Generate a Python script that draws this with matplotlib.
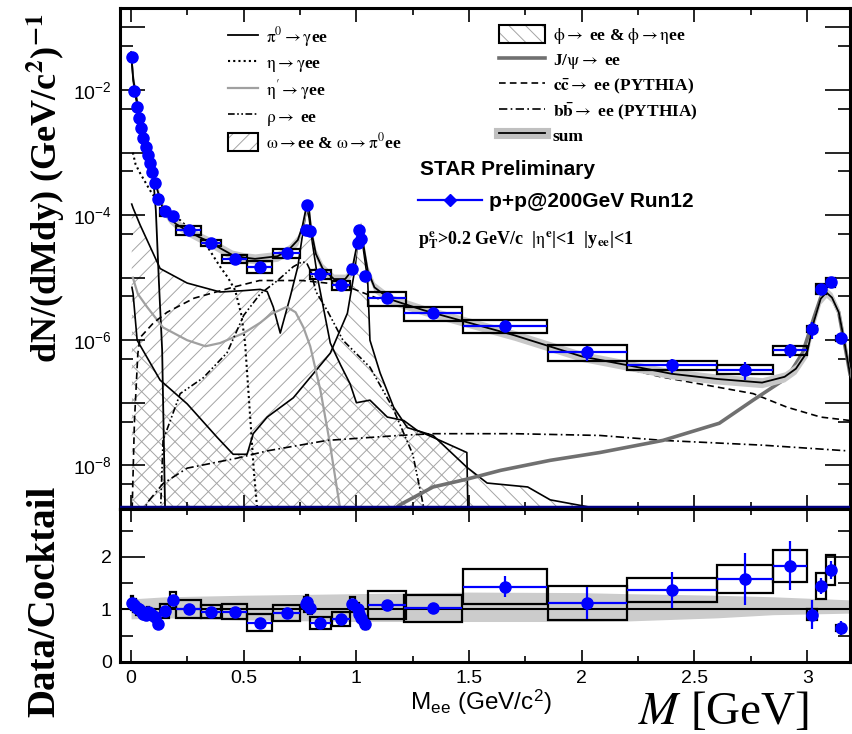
"""
Dielectron invariant mass spectrum in p+p at 200 GeV (STAR Run12)
compared with the hadronic cocktail, with Data/Cocktail ratio panel.
"""

import matplotlib
matplotlib.use("Agg")

import matplotlib.pyplot as plt
import numpy as np
from matplotlib.lines import Line2D
from matplotlib.patches import Patch, Rectangle
from matplotlib.ticker import FixedLocator, FuncFormatter, LogLocator, NullFormatter

plt.rcParams["font.family"] = ["Liberation Sans", "DejaVu Sans"]
plt.rcParams["mathtext.fontset"] = "stix"
plt.rcParams["hatch.linewidth"] = 0.7

SERIF = ["Liberation Serif", "DejaVu Serif"]

# ==========================================================
# Data points (mass, yield, half bin width)
# ==========================================================

DATA_M = [0.005, 0.015, 0.025, 0.035, 0.045, 0.055, 0.065, 0.075, 0.085, 0.095,
          0.105, 0.12, 0.15, 0.185, 0.255, 0.355, 0.46, 0.57, 0.69, 0.775,
          0.782, 0.795, 0.84, 0.93, 0.982, 1.008, 1.013, 1.022, 1.04, 1.137,
          1.34, 1.66, 2.025, 2.4, 2.725, 2.925, 3.022, 3.063, 3.105, 3.15]
DATA_Y = [3.4e-2, 9.6e-3, 5.3e-3, 3.6e-3, 2.5e-3, 1.7e-3, 1.23e-3, 9.1e-4, 6.8e-4, 4.9e-4,
          3.3e-4, 1.8e-4, 1.15e-4, 9.6e-5, 5.7e-5, 3.6e-5, 2.0e-5, 1.5e-5, 2.5e-5, 5.7e-5,
          1.45e-4, 5.5e-5, 1.15e-5, 7.6e-6, 1.4e-5, 3.6e-5, 5.7e-5, 4.2e-5, 1.05e-5, 4.7e-6,
          2.7e-6, 1.7e-6, 6.4e-7, 4.0e-7, 3.4e-7, 6.9e-7, 1.5e-6, 6.7e-6, 8.5e-6, 1.07e-6]
DATA_HW = [0.005, 0.005, 0.005, 0.005, 0.005, 0.005, 0.005, 0.005, 0.005, 0.005,
           0.005, 0.01, 0.02, 0.013, 0.055, 0.045, 0.055, 0.055, 0.06, 0.008,
           0.005, 0.008, 0.045, 0.04, 0.01, 0.005, 0.005, 0.005, 0.01, 0.085,
           0.13, 0.185, 0.175, 0.2, 0.125, 0.075, 0.022, 0.022, 0.02, 0.02]

# Data / cocktail ratio with statistical and systematic uncertainties
RATIO = [1.12, 1.08, 1.02, 1.0, 0.97, 0.92, 0.9, 0.95, 0.93, 0.9,
         0.85, 0.72, 0.97, 1.18, 1.0, 0.96, 0.96, 0.75, 0.93, 1.1,
         1.15, 1.03, 0.74, 0.82, 1.1, 1.0, 0.92, 0.84, 0.73, 1.08,
         1.02, 1.43, 1.12, 1.37, 1.58, 1.83, 0.9, 1.45, 1.75, 0.65]
RATIO_STAT = [0.03, 0.03, 0.03, 0.03, 0.03, 0.03, 0.04, 0.04, 0.04, 0.04,
              0.05, 0.05, 0.06, 0.08, 0.05, 0.05, 0.06, 0.06, 0.05, 0.06,
              0.05, 0.06, 0.06, 0.08, 0.08, 0.06, 0.05, 0.06, 0.07, 0.08,
              0.06, 0.2, 0.3, 0.35, 0.49, 0.47, 0.27, 0.15, 0.18, 0.13]
RATIO_SYS = [0.14, 0.12, 0.12, 0.1, 0.1, 0.1, 0.1, 0.1, 0.1, 0.1,
             0.1, 0.08, 0.14, 0.16, 0.17, 0.12, 0.15, 0.16, 0.15, 0.14,
             0.12, 0.12, 0.12, 0.14, 0.14, 0.12, 0.12, 0.12, 0.1, 0.27,
             0.26, 0.33, 0.32, 0.22, 0.26, 0.3, 0.1, 0.25, 0.28, 0.06]

# ==========================================================
# Cocktail components
# ==========================================================

PI0_M = [0.0, 0.01, 0.02, 0.04, 0.06, 0.08, 0.10, 0.11, 0.124, 0.138, 0.151]
PI0_Y = [4.0e-2, 1.4e-2, 8.0e-3, 3.3e-3, 1.5e-3, 7.0e-4, 3.3e-4, 1.2e-4, 8e-6, 7e-7, 2e-9]

ETA_M = [0.008, 0.02, 0.04, 0.084, 0.115, 0.16, 0.218, 0.28, 0.337, 0.395,
         0.43, 0.462, 0.49, 0.506, 0.53, 0.545, 0.56]
ETA_Y = [1e-3, 6.5e-4, 4.7e-4, 2.5e-4, 1.7e-4, 1.2e-4, 8.3e-5, 5e-5, 3.2e-5, 1.5e-5,
         1e-5, 6.3e-6, 2.5e-6, 9e-7, 5e-8, 8e-9, 2e-9]

ETAP_M = [0.008, 0.03, 0.071, 0.142, 0.249, 0.33, 0.395, 0.5, 0.573, 0.62,
          0.69, 0.73, 0.765, 0.795, 0.84, 0.88, 0.928]
ETAP_Y = [1e-5, 5.5e-6, 3.4e-6, 1.6e-6, 1e-6, 8e-7, 9e-7, 1.3e-6, 1.9e-6, 2.6e-6,
          3.4e-6, 2.8e-6, 1.6e-6, 8e-7, 1.6e-7, 2.5e-8, 2e-9]

RHO_M = [0.13, 0.142, 0.218, 0.32, 0.426, 0.5, 0.573, 0.65, 0.72, 0.76,
         0.78, 0.8, 0.82, 0.87, 0.94, 1.06, 1.16, 1.25, 1.3]
RHO_Y = [1.5e-9, 2.5e-8, 1.4e-7, 2.5e-7, 6.3e-7, 2.5e-6, 5.5e-6, 9e-6, 1.5e-5, 1.8e-5,
         1.7e-5, 1.2e-5, 6e-6, 3e-6, 1e-6, 3.7e-7, 8.5e-8, 1.5e-8, 2e-9]

OMEGA_M = [0.003, 0.009, 0.04, 0.071, 0.129, 0.249, 0.395, 0.5, 0.573, 0.604,
           0.631, 0.662, 0.706, 0.74, 0.764, 0.775, 0.782, 0.79, 0.805, 0.83,
           0.86, 0.884, 0.93, 0.972, 1.0, 1.06, 1.137, 1.21, 1.27, 1.34,
           1.49, 1.495]
OMEGA_Y = [1.5e-4, 1.3e-4, 7e-5, 4e-5, 1.4e-5, 8.2e-6, 5.9e-6, 6.2e-6, 6.5e-6, 6e-6,
           3.4e-6, 1.3e-6, 4.9e-6, 1.5e-5, 5.8e-5, 1.05e-4, 1.2e-4, 9e-5, 3.5e-5, 9e-6,
           2.5e-6, 9e-7, 4e-7, 2e-7, 1e-7, 1.1e-7, 5.9e-8, 5.2e-8, 3.6e-8, 2.8e-8,
           1.6e-8, 1.5e-9]

PHI_M = [0.004, 0.009, 0.027, 0.129, 0.249, 0.382, 0.453, 0.515, 0.542, 0.604,
         0.72, 0.884, 0.96, 0.995, 1.01, 1.02, 1.03, 1.05, 1.06, 1.105,
         1.165, 1.226, 1.34, 1.49, 1.58, 1.76, 1.86, 2.08, 2.25]
PHI_Y = [7e-6, 5.6e-6, 1e-6, 2.3e-7, 9.6e-8, 2.8e-8, 1.5e-8, 1.5e-8, 3.2e-8, 5.9e-8,
         1.2e-7, 6.2e-7, 2.7e-6, 1.5e-5, 5.8e-5, 7e-5, 3e-5, 9e-6, 1e-6, 3e-7,
         8.5e-8, 4e-8, 3e-8, 9.3e-9, 5.2e-9, 4.5e-9, 2.8e-9, 2e-9, 1.5e-9]

JPSI_M = [1.13, 1.19, 1.34, 1.49, 1.64, 1.86, 2.08, 2.36, 2.61, 2.76,
          2.91, 2.98, 3.03, 3.06, 3.085, 3.11, 3.14, 3.19]
JPSI_Y = [1.5e-9, 2.3e-9, 4.5e-9, 6e-9, 8.3e-9, 1.2e-8, 1.6e-8, 2.5e-8, 4.7e-8, 1.1e-7,
          2.5e-7, 6.3e-7, 2.3e-6, 4.8e-6, 5.8e-6, 4.8e-6, 2.8e-6, 2.9e-7]

CCBAR_M = [0.005, 0.015, 0.03, 0.04, 0.1, 0.16, 0.28, 0.45, 0.57, 0.76,
           0.94, 1.14, 1.34, 1.66, 2.0, 2.35, 2.76, 2.91, 3.06, 3.19]
CCBAR_Y = [2e-9, 5e-8, 6e-7, 1.1e-6, 1.9e-6, 2.8e-6, 4.7e-6, 7e-6, 9e-6, 9e-6,
           7.7e-6, 4e-6, 2.5e-6, 1.25e-6, 5.2e-7, 2.6e-7, 1.4e-7, 8.5e-8, 5.9e-8, 5.2e-8]

BBBAR_M = [0.05, 0.071, 0.142, 0.249, 0.47, 0.604, 0.87, 1.19, 1.34, 1.7,
           2.08, 2.36, 2.8, 3.18]
BBBAR_Y = [1.5e-9, 2.5e-9, 5.1e-9, 9e-9, 1.3e-8, 1.7e-8, 2.5e-8, 3e-8, 3.2e-8, 3.2e-8,
           3e-8, 2.5e-8, 2.1e-8, 1.7e-8]

SUM_M = [0.0, 0.01, 0.02, 0.04, 0.06, 0.08, 0.10, 0.12, 0.14, 0.17,
         0.2, 0.25, 0.3, 0.35, 0.4, 0.45, 0.5, 0.55, 0.6, 0.65,
         0.7, 0.74, 0.76, 0.775, 0.783, 0.79, 0.8, 0.82, 0.85, 0.9,
         0.95, 0.98, 1.0, 1.012, 1.02, 1.03, 1.05, 1.08, 1.15, 1.3,
         1.5, 1.7, 2.0, 2.2, 2.4, 2.6, 2.8, 2.9, 2.95, 3.0,
         3.03, 3.06, 3.085, 3.11, 3.14, 3.16, 3.19]
SUM_Y = [4.0e-2, 1.5e-2, 9.0e-3, 3.6e-3, 1.8e-3, 8.5e-4, 4.2e-4, 2.3e-4, 1.3e-4, 9.0e-5,
         7.2e-5, 5.6e-5, 4.5e-5, 3.7e-5, 2.9e-5, 2.3e-5, 2.1e-5, 2.0e-5, 2.1e-5, 2.2e-5,
         2.8e-5, 4.0e-5, 6.5e-5, 1.2e-4, 1.45e-4, 1.2e-4, 5.5e-5, 2.4e-5, 1.4e-5, 9.5e-6,
         9.5e-6, 1.3e-5, 3.0e-5, 6.0e-5, 6.5e-5, 3.5e-5, 1.3e-5, 7.0e-6, 4.5e-6, 3.0e-6,
         1.9e-6, 1.2e-6, 5.5e-7, 4.0e-7, 2.9e-7, 2.4e-7, 2.1e-7, 2.6e-7, 3.5e-7, 6.5e-7,
         2.0e-6, 4.6e-6, 5.8e-6, 4.8e-6, 2.8e-6, 1.2e-6, 2.9e-7]

# Cocktail uncertainty band in the ratio panel
BAND_M = [0.0, 0.15, 0.5, 1.0, 1.5, 2.0, 2.2, 2.6, 2.85, 3.2]
BAND_HI = [1.2, 1.24, 1.27, 1.3, 1.33, 1.32, 1.3, 1.27, 1.24, 1.18]
BAND_LO = [0.82, 0.84, 0.8, 0.77, 0.77, 0.77, 0.78, 0.84, 0.9, 0.93]

# ==========================================================
# Styles
# ==========================================================

RHO_LS = (0, (4, 1.5, 1, 1.5, 1, 1.5))
BB_LS = (0, (5, 2, 1, 2))
CC_LS = (0, (4, 2.5))
ETA_LS = (0, (1, 1.5))
HATCH_GRAY = "#a4a4a4"
BLUE = "#0000ff"

FIG_W, FIG_H = 852, 734
AX_LEFT, AX_RIGHT = 120, 850
TOP_Y0, TOP_Y1 = 8, 509
BOT_Y1 = 662

XLIM = (-0.049, 3.19)
YLIM = (2e-9, 0.205)
RLIM = (0, 2.91)


def fig_rect(x0, x1, y0, y1):
    return [x0 / FIG_W, 1 - y1 / FIG_H, (x1 - x0) / FIG_W, (y1 - y0) / FIG_H]


def style_axes(ax):
    for sp in ax.spines.values():
        sp.set_linewidth(2.2)
    ax.tick_params(which="both", direction="in", top=True, right=True,
                   width=1.2, labelsize=14, pad=6)


def log_label(v, pos):
    e = int(round(np.log10(v)))
    if e % 2 == 0:
        return r"$\mathdefault{10^{%d}}$" % e
    return ""


def main():
    fig = plt.figure(figsize=(FIG_W / 100, FIG_H / 100), dpi=100)
    ax = fig.add_axes(fig_rect(AX_LEFT, AX_RIGHT, TOP_Y0, TOP_Y1))
    axr = fig.add_axes(fig_rect(AX_LEFT, AX_RIGHT, TOP_Y1, BOT_Y1))

    # ------------------------------------------------------
    # Upper panel: cocktail
    # ------------------------------------------------------
    floor = 1e-10
    ax.fill_between(OMEGA_M, floor, OMEGA_Y, facecolor="none",
                    edgecolor=HATCH_GRAY, hatch="//", linewidth=0, zorder=1)
    ax.fill_between(PHI_M, floor, PHI_Y, facecolor="none",
                    edgecolor=HATCH_GRAY, hatch="\\\\", linewidth=0, zorder=1)

    ax.plot(OMEGA_M, OMEGA_Y, color="black", lw=1.2, zorder=2)
    ax.plot(PHI_M, PHI_Y, color="black", lw=1.2, zorder=2)
    ax.plot(PI0_M, PI0_Y, color="black", lw=1.3, zorder=2)
    ax.plot(ETA_M, ETA_Y, color="black", lw=1.5, ls=ETA_LS, zorder=2)
    ax.plot(ETAP_M, ETAP_Y, color="#a0a0a0", lw=1.6, zorder=2)
    ax.plot(RHO_M, RHO_Y, color="black", lw=1.2, ls=RHO_LS, zorder=2)
    ax.plot(CCBAR_M, CCBAR_Y, color="black", lw=1.2, ls=CC_LS, zorder=2)
    ax.plot(BBBAR_M, BBBAR_Y, color="black", lw=1.2, ls=BB_LS, zorder=2)
    ax.plot(JPSI_M, JPSI_Y, color="#707070", lw=2.6, zorder=2)

    sum_y = np.array(SUM_Y)
    ax.fill_between(SUM_M, sum_y * 0.83, sum_y * 1.2, color="#c8c8c8",
                    linewidth=0, zorder=3)
    ax.plot(SUM_M, SUM_Y, color="black", lw=1.3, zorder=4)

    # data: systematic boxes + statistical error bars
    y = np.array(DATA_Y)
    r = np.array(RATIO)
    sys_rel = np.array(RATIO_SYS) / r
    stat_rel = np.array(RATIO_STAT) / r
    for m, yy, hw, s in zip(DATA_M, y, DATA_HW, sys_rel):
        ax.add_patch(Rectangle((m - hw, yy * (1 - s)), 2 * hw, 2 * s * yy,
                               fill=False, edgecolor="black", lw=1.6, zorder=5))
    ax.errorbar(DATA_M, y, xerr=DATA_HW, yerr=y * stat_rel, fmt="o",
                color=BLUE, ms=8, elinewidth=1.6, capsize=0, zorder=6)

    ax.axhline(YLIM[0] * 1.08, color="#000080", lw=2.5, zorder=7)

    ax.set_yscale("log")
    ax.set_xlim(*XLIM)
    ax.set_ylim(*YLIM)
    style_axes(ax)
    ax.yaxis.set_major_locator(LogLocator(base=10, numticks=20))
    ax.yaxis.set_major_formatter(FuncFormatter(log_label))
    ax.yaxis.set_minor_locator(LogLocator(base=10, subs=[5.0], numticks=20))
    ax.yaxis.set_minor_formatter(NullFormatter())
    ax.xaxis.set_major_locator(FixedLocator([0, 0.5, 1, 1.5, 2, 2.5, 3]))
    ax.xaxis.set_minor_locator(FixedLocator([0.25, 0.75, 1.25, 1.75, 2.25, 2.75]))
    ax.tick_params(axis="y", which="major", length=18)
    ax.tick_params(axis="y", which="minor", length=9)
    ax.tick_params(axis="x", which="major", length=10)
    ax.tick_params(axis="x", which="minor", length=5)
    ax.tick_params(axis="x", labelbottom=False)

    # ------------------------------------------------------
    # Legends and labels inside the upper panel
    # ------------------------------------------------------
    leg_font = {"family": SERIF, "weight": "bold", "size": 12.5}

    left_handles = [
        Line2D([], [], color="black", lw=1.3),
        Line2D([], [], color="black", lw=1.5, ls=ETA_LS),
        Line2D([], [], color="#a0a0a0", lw=1.6),
        Line2D([], [], color="black", lw=1.2, ls=RHO_LS),
        (Patch(facecolor="white", edgecolor=HATCH_GRAY, hatch="//", lw=0),
         Patch(facecolor="none", edgecolor="black", lw=1.5)),
    ]
    left_labels = [
        r"$\mathrm{\pi^0\rightarrow\gamma}$ee",
        r"$\mathrm{\eta\rightarrow\gamma}$ee",
        r"$\mathrm{\eta'\rightarrow\gamma}$ee",
        r"$\mathrm{\rho\rightarrow}$ ee",
        r"$\mathrm{\omega\rightarrow}$ee & $\mathrm{\omega\rightarrow\pi^0}$ee",
    ]
    leg1 = ax.legend(left_handles, left_labels, loc="upper left",
                     bbox_to_anchor=(0.148, 0.966), frameon=False, prop=leg_font,
                     handlelength=1.75, handleheight=1.2, handletextpad=0.45,
                     labelspacing=0.25, borderpad=0, borderaxespad=0)
    ax.add_artist(leg1)

    right_handles = [
        (Patch(facecolor="white", edgecolor=HATCH_GRAY, hatch="\\\\", lw=0),
         Patch(facecolor="none", edgecolor="black", lw=1.5)),
        Line2D([], [], color="#707070", lw=2.6),
        Line2D([], [], color="black", lw=1.2, ls=CC_LS),
        Line2D([], [], color="black", lw=1.2, ls=BB_LS),
        (Line2D([], [], color="#c0c0c0", lw=8),
         Line2D([], [], color="black", lw=1.3)),
    ]
    right_labels = [
        r"$\mathrm{\phi\rightarrow}$ ee & $\mathrm{\phi\rightarrow\eta}$ee",
        r"J/$\mathrm{\psi\rightarrow}$ ee",
        r"$\mathbf{c\bar{c}}\rightarrow$ ee (PYTHIA)",
        r"$\mathbf{b\bar{b}}\rightarrow$ ee (PYTHIA)",
        "sum",
    ]
    leg2 = ax.legend(right_handles, right_labels, loc="upper left",
                     bbox_to_anchor=(0.519, 0.966), frameon=False, prop=leg_font,
                     handlelength=2.65, handleheight=1.2, handletextpad=0.45,
                     labelspacing=0.25, borderpad=0, borderaxespad=0)
    ax.add_artist(leg2)

    data_handle = Line2D([], [], color=BLUE, lw=1.6, marker="D", ms=6)
    ax.legend([data_handle], ["p+p@200GeV Run12"], loc="upper left",
              bbox_to_anchor=(0.408, 0.632), frameon=False,
              prop={"weight": "bold", "size": 15}, handlelength=3.1,
              handletextpad=0.3, borderpad=0, borderaxespad=0)

    ax.text(0.411, 0.677, "STAR Preliminary", transform=ax.transAxes,
            fontsize=15, fontweight="bold", va="center")
    ax.text(0.408, 0.537,
            r"p$_{\mathbf{T}}^{\mathbf{e}}$>0.2 GeV/c  |$\mathrm{\eta}^{\mathbf{e}}$|<1  |y$_{\mathbf{ee}}$|<1",
            transform=ax.transAxes, fontsize=13, fontweight="bold",
            family=SERIF, va="center")

    # ------------------------------------------------------
    # Lower panel: Data / Cocktail
    # ------------------------------------------------------
    axr.fill_between(BAND_M, BAND_LO, BAND_HI, color="#cccccc", linewidth=0, zorder=1)
    axr.axhline(1, color="black", lw=1.5, zorder=2)
    for m, rr, hw, s in zip(DATA_M, RATIO, DATA_HW, RATIO_SYS):
        axr.add_patch(Rectangle((m - hw, rr - s), 2 * hw, 2 * s, fill=False,
                                edgecolor="black", lw=1.6, zorder=3))
    axr.errorbar(DATA_M, RATIO, xerr=DATA_HW, yerr=RATIO_STAT, fmt="o",
                 color=BLUE, ms=8, elinewidth=1.6, capsize=0, zorder=4)

    axr.set_xlim(*XLIM)
    axr.set_ylim(*RLIM)
    style_axes(axr)
    axr.xaxis.set_major_locator(FixedLocator([0, 0.5, 1, 1.5, 2, 2.5, 3]))
    axr.xaxis.set_minor_locator(FixedLocator([0.25, 0.75, 1.25, 1.75, 2.25, 2.75]))
    axr.xaxis.set_major_formatter(FuncFormatter(lambda v, p: "%g" % v))
    axr.yaxis.set_major_locator(FixedLocator([0, 1, 2]))
    axr.yaxis.set_minor_locator(FixedLocator([0.5, 1.5, 2.5]))
    axr.tick_params(axis="y", which="major", length=18)
    axr.tick_params(axis="y", which="minor", length=9)
    axr.tick_params(axis="x", which="major", length=9)
    axr.tick_params(axis="x", which="minor", length=4.5)

    # ------------------------------------------------------
    # Axis titles
    # ------------------------------------------------------
    fig.text(46 / FIG_W, 1 - 188 / FIG_H, r"dN/(dMdy) (GeV/c$^{\mathbf{2}}$)$^{\mathbf{-1}}$",
             rotation=90, ha="center", va="center", family=SERIF,
             fontweight="bold", fontsize=26)
    fig.text(45 / FIG_W, 1 - 601 / FIG_H, "Data/Cocktail", rotation=90,
             ha="center", va="center", family=SERIF, fontweight="bold", fontsize=28)
    fig.text(410 / FIG_W, 1 - 702 / FIG_H,
             r"M$_{\mathregular{ee}}$ (GeV/c$^{\mathregular{2}}$)",
             ha="left", va="center", fontsize=17.5)
    fig.text(638 / FIG_W, 1 - 712 / FIG_H, r"$M$ [GeV]", ha="left", va="center",
             family=SERIF, fontsize=34)

    fig.savefig("out.png", dpi=100)


if __name__ == "__main__":
    main()
